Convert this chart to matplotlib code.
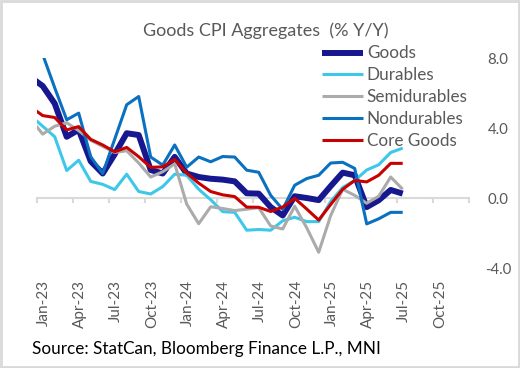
import matplotlib
matplotlib.use("Agg")
import matplotlib.pyplot as plt
from matplotlib.patches import Rectangle

# ---- data (monthly, Dec-22 .. Jul-25; Dec-22 sits left of the visible axis) ----
months = ["Dec-22",
          "Jan-23", "Feb-23", "Mar-23", "Apr-23", "May-23", "Jun-23", "Jul-23", "Aug-23",
          "Sep-23", "Oct-23", "Nov-23", "Dec-23",
          "Jan-24", "Feb-24", "Mar-24", "Apr-24", "May-24", "Jun-24", "Jul-24", "Aug-24",
          "Sep-24", "Oct-24", "Nov-24", "Dec-24",
          "Jan-25", "Feb-25", "Mar-25", "Apr-25", "May-25", "Jun-25", "Jul-25"]

goods = [6.9, 6.4, 5.4, 3.5, 3.9, 2.1, 1.4, 2.5, 3.7, 3.6, 1.6, 1.4, 2.35,
         1.4, 1.2, 1.1, 1.05, 0.95, 0.27, 0.25, -0.52, -1.0, 0.1, 0.0, -0.12,
         0.68, 1.45, 1.3, -0.52, -0.13, 0.46, 0.25]
durables = [4.7, 4.1, 3.5, 1.57, 2.16, 0.95, 0.78, 0.48, 1.36, 0.37, 0.23, 0.65, 1.36,
            1.3, 0.5, -0.1, -0.78, -0.82, -1.84, -1.8, -1.84, -1.3, -1.1, -1.35, -1.35,
            -0.2, 0.6, 1.0, 1.6, 1.9, 2.6, 2.85]
semidurables = [4.5, 3.65, 4.1, 4.3, 3.85, 3.3, 2.95, 2.6, 2.7, 2.0, 1.2, 1.5, 1.95,
                -0.35, -1.47, -0.5, -0.6, -0.72, -0.64, -0.55, -1.6, -1.77, -0.47, -1.7, -3.1,
                -1.0, 0.5, 0.15, -0.3, 0.1, 1.2, 0.5]
nondurables = [9.0, 8.2, 6.3, 4.47, 4.85, 2.36, 1.4, 3.36, 5.33, 5.8, 2.34, 1.88, 3.03,
               1.76, 2.34, 2.07, 2.37, 2.34, 1.59, 1.47, 0.15, -0.65, 0.73, 1.11, 1.3,
               2.0, 2.04, 1.69, -1.48, -1.19, -0.82, -0.82]
core_goods = [5.2, 4.71, 4.6, 3.89, 4.08, 3.35, 3.03, 2.64, 2.89, 2.36, 1.75, 1.78, 2.2,
              1.42, 0.85, 0.37, 0.18, 0.08, -0.52, -0.53, -0.77, -0.52, -0.02, -0.63, -1.26,
              -0.37, 0.5, 1.0, 0.92, 1.3, 1.98, 1.98]

tick_labels = ["Jan-23", "Apr-23", "Jul-23", "Oct-23", "Jan-24", "Apr-24",
               "Jul-24", "Oct-24", "Jan-25", "Apr-25", "Jul-25", "Oct-25"]
y_ticks = [-4.0, 0.0, 4.0, 8.0]

series_names = ["Goods", "Durables", "Semidurables", "Nondurables", "Core Goods"]

# ---- styling ----
FONT = "Lato"
plt.rcParams["font.family"] = [FONT, "DejaVu Sans"]
GRAY_TXT = "#595959"
AXIS_GRAY = "#D9D9D9"

colors = ["#17178F", "#3DC8EA", "#ABABAB", "#0A70C0", "#C80000"]
widths = [4.3, 2.2, 2.2, 2.2, 2.2]

fig = plt.figure(figsize=(5.2, 3.68), dpi=100)
ax = fig.add_axes([36.7 / 520, 1 - 268 / 368, (468.7 - 36.7) / 520, (268 - 58) / 368])

x = [i - 1 for i in range(len(months))]  # Jan-23 -> 0
all_series = [goods, durables, semidurables, nondurables, core_goods]
for k, (name, vals) in enumerate(zip(series_names, all_series)):
    ax.plot(x, vals, color=colors[k], lw=widths[k], label=name,
            solid_joinstyle="round", solid_capstyle="butt", zorder=3 + k)

ax.set_xlim(-0.5, 35.5)
ax.set_ylim(-4, 8)

# category axis crossing at zero, ticks at category boundaries every quarter
for s in ["left", "top", "right"]:
    ax.spines[s].set_visible(False)
ax.spines["bottom"].set_position(("data", 0))
ax.spines["bottom"].set_color(AXIS_GRAY)
ax.spines["bottom"].set_linewidth(1.5)
ax.spines["bottom"].set_zorder(1)
ax.set_xticks([-0.5 + 3 * i for i in range(13)])
ax.set_xticklabels([])
ax.tick_params(axis="x", direction="out", length=3.8, width=1.5, color=AXIS_GRAY)

# labels at the bottom of the plot area
sec = ax.secondary_xaxis("bottom")
sec.spines["bottom"].set_visible(False)
sec.set_xticks([3 * i + 0.1 for i in range(len(tick_labels))])
sec.set_xticklabels(tick_labels, rotation=90, color=GRAY_TXT, fontsize=11)
sec.tick_params(axis="x", length=0, pad=8.5)

# right-hand value axis
ax.yaxis.tick_right()
ax.set_yticks(y_ticks)
ax.set_yticklabels([f"{v:.1f}" for v in y_ticks], color=GRAY_TXT, fontsize=10.8)
ax.tick_params(axis="y", length=0, pad=21)
for lbl in ax.get_yticklabels():
    lbl.set_horizontalalignment("center")

# legend
leg = ax.legend(loc="upper left", bbox_to_anchor=(322 / 520, 1 - 45.5 / 368),
                bbox_transform=fig.transFigure, frameon=False, fontsize=12.3,
                handlelength=2.4, handletextpad=0.22, labelspacing=0.345,
                borderpad=0, borderaxespad=0)
for t in leg.get_texts():
    t.set_color(GRAY_TXT)

fig.text(265.5 / 520, 1 - 31 / 368, "Goods CPI Aggregates  (% Y/Y)", ha="center",
         va="center", color=GRAY_TXT, fontsize=13)
fig.text(32 / 520, 1 - 349 / 368, "Source: StatCan, Bloomberg Finance L.P., MNI",
         ha="left", va="center", color="black", fontsize=12.3)

fig.patches.append(Rectangle((0.002, 0.003), 0.996, 0.994, transform=fig.transFigure,
                             fill=False, edgecolor=AXIS_GRAY, lw=2))

fig.savefig("out.png", dpi=100)
